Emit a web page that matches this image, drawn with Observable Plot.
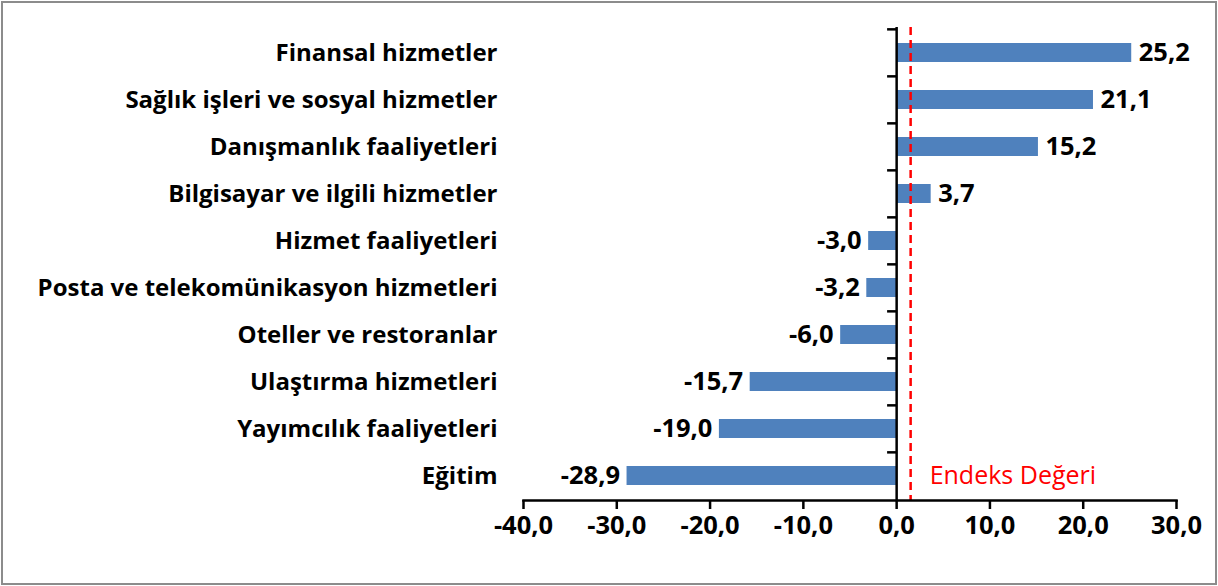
<!DOCTYPE html>
<html>
<head>
<meta charset="utf-8">
<script src="https://cdn.jsdelivr.net/npm/d3@7"></script>
<script src="https://cdn.jsdelivr.net/npm/@observablehq/plot@0.6"></script>
<style>
  html, body { margin: 0; padding: 0; background: #fff; }
  #wrap { position: relative; width: 1218px; height: 586px; }
  #frame { position: absolute; left: 1px; top: 1px; width: 1212px; height: 580px; border: 2px solid #8c8c8c; pointer-events: none; }
</style>
</head>
<body>
<div id="wrap"><div id="frame"></div></div>
<script>
const categories = [
  "Finansal hizmetler",
  "Sağlık işleri ve sosyal hizmetler",
  "Danışmanlık faaliyetleri",
  "Bilgisayar ve ilgili hizmetler",
  "Hizmet faaliyetleri",
  "Posta ve telekomünikasyon hizmetleri",
  "Oteller ve restoranlar",
  "Ulaştırma hizmetleri",
  "Yayımcılık faaliyetleri",
  "Eğitim"
];
const values = [25.2, 21.1, 15.2, 3.7, -3.0, -3.2, -6.0, -15.7, -19.0, -28.9];
const xTicks = [-40, -30, -20, -10, 0, 10, 20, 30];
const indexValue = 1.5;
const indexLabel = "Endeks Değeri";

const data = categories.map((c, i) => ({category: c, value: values[i]}));
const fmt = d => d.toFixed(1).replace(".", ",");

const width = 1218, height = 586;
const marginTop = 27, marginBottom = 86, marginLeft = 523, marginRight = 42;
const step = (height - marginTop - marginBottom) / categories.length;
const FONT = "'Open Sans', Lato, sans-serif";
const FS = 24, FN = 25.5;

const chart = Plot.plot({
  width, height, marginTop, marginBottom, marginLeft, marginRight,
  style: {fontFamily: FONT, background: "transparent"},
  x: {domain: [-40, 30]},
  y: {domain: categories, paddingInner: 0.6, paddingOuter: 0.3, align: 0.5},
  marks: [
    Plot.barX(data, {y: "category", x1: 0, x2: "value", fill: "#4f81bd"}),
    Plot.ruleX([indexValue], {stroke: "#ff0000", strokeWidth: 2.5, strokeDasharray: "8,5"}),
    Plot.ruleX([0], {stroke: "black", strokeWidth: 2.5}),
    Plot.ruleY(categories, {y: d => d, x1: -0.97, x2: 0, dy: -step / 2, stroke: "black", strokeWidth: 2.5}),
    Plot.frame({anchor: "bottom", stroke: "black", strokeWidth: 2.5}),
    Plot.axisX({ticks: xTicks, tickSize: 9, tickPadding: 6, tickFormat: fmt, fontSize: FN, fontWeight: "bold", strokeWidth: 2.5, label: null, fill: "black"}),
    Plot.axisY({tickSize: 0, tickPadding: 26, fontSize: FS, fontWeight: "bold", label: null, fill: "black"}),
    Plot.text(data.filter(d => d.value >= 0), {
      y: "category", x: "value", text: d => fmt(d.value),
      textAnchor: "start", dx: 7, fontSize: FN, fontWeight: "bold", fill: "black"
    }),
    Plot.text(data.filter(d => d.value < 0), {
      y: "category", x: "value", text: d => fmt(d.value),
      textAnchor: "end", dx: -7, fontSize: FN, fontWeight: "bold", fill: "black"
    }),
    Plot.text([indexLabel], {x: indexValue, y: [categories[categories.length - 1]], text: d => d, textAnchor: "start", dx: 19, fontSize: 25, fill: "#ff0000"})
  ]
});
document.getElementById("wrap").prepend(chart);
</script>
</body>
</html>
